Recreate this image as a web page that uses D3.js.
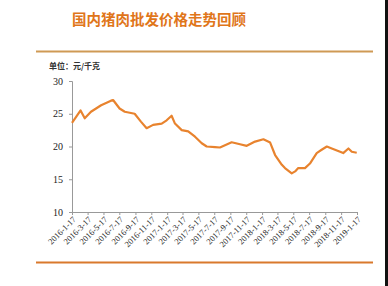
<!DOCTYPE html>
<html>
<head>
<meta charset="utf-8">
<script src="https://cdn.jsdelivr.net/npm/d3@7"></script>
<style>
  body { margin: 0; background: #fff; }
  svg { display: block; }
</style>
</head>
<body>
<div id="chart"></div>
<script>
// price of pork, wholesale, yuan/kg
var dates = [
  "2016-01-17", "2016-02-19", "2016-03-06", "2016-03-30", "2016-05-08", "2016-06-15",
  "2016-06-23", "2016-07-18", "2016-08-07", "2016-09-14", "2016-10-08", "2016-10-30",
  "2016-11-24", "2016-12-27", "2017-01-15", "2017-02-03", "2017-02-16", "2017-03-14",
  "2017-04-08", "2017-05-04", "2017-05-30", "2017-06-18", "2017-07-20", "2017-08-08",
  "2017-09-22", "2017-10-24", "2017-11-19", "2017-12-21", "2018-01-22", "2018-02-17",
  "2018-03-08", "2018-04-03", "2018-04-15", "2018-05-11", "2018-05-24", "2018-06-05",
  "2018-07-01", "2018-07-20", "2018-08-15", "2018-09-03", "2018-09-23", "2018-10-12",
  "2018-11-13", "2018-11-25", "2018-12-15", "2018-12-28", "2019-01-16"
];
var prices = [
  23.6, 25.5, 24.3, 25.3, 26.3, 27.0,
  27.1, 25.8, 25.3, 25.0, 23.8, 22.8,
  23.3, 23.5, 24.0, 24.7, 23.5, 22.5,
  22.3, 21.5, 20.5, 20.0, 19.9, 19.85,
  20.65, 20.35, 20.1, 20.75, 21.1, 20.6,
  18.7, 17.2, 16.7, 15.9, 16.2, 16.7,
  16.7, 17.4, 19.0, 19.5, 20.0, 19.7,
  19.2, 19.0, 19.7, 19.2, 19.05
];
var tickLabels = [
  "2016-1-17", "2016-3-17", "2016-5-17", "2016-7-17", "2016-9-17", "2016-11-17",
  "2017-1-17", "2017-3-17", "2017-5-17", "2017-7-17", "2017-9-17", "2017-11-17",
  "2018-1-17", "2018-3-17", "2018-5-17", "2018-7-17", "2018-9-17", "2018-11-17",
  "2019-1-17"
];
var yTicks = [10, 15, 20, 25, 30];

var title = "国内猪肉批发价格走势回顾";
var unit = "单位：元/千克";

var width = 388;
var height = 286;
var orange = "#e8832e";

var parse = d3.timeParse("%Y-%m-%d");
var parseTick = d3.timeParse("%Y-%-m-%-d");

var data = dates.map(function(d, i) { return {date: parse(d), value: prices[i]}; });

var svg = d3.select("#chart").append("svg")
  .attr("width", width)
  .attr("height", height);

// title and rules
svg.append("text")
  .attr("x", 72)
  .attr("y", 25)
  .attr("font-family", "Noto Sans CJK SC")
  .attr("font-weight", "bold")
  .attr("font-size", 14.5)
  .attr("fill", "#e0761a")
  .text(title);

svg.append("line")
  .attr("x1", 36).attr("x2", 373)
  .attr("y1", 51.5).attr("y2", 51.5)
  .attr("stroke", "#cf9a55")
  .attr("stroke-width", 2);

svg.append("line")
  .attr("x1", 36).attr("x2", 373)
  .attr("y1", 262.5).attr("y2", 262.5)
  .attr("stroke", "#d9792c")
  .attr("stroke-width", 2);

// dark strip at the right edge
svg.append("rect")
  .attr("x", 385).attr("y", 0)
  .attr("width", 3).attr("height", height)
  .attr("fill", "#111");

svg.append("text")
  .attr("x", 49)
  .attr("y", 69)
  .attr("font-family", "Noto Sans CJK SC")
  .attr("font-weight", "bold")
  .attr("font-size", 8)
  .attr("fill", "#333")
  .text(unit);

// scales
var x = d3.scaleTime()
  .domain([parseTick(tickLabels[0]), parseTick(tickLabels[tickLabels.length - 1])])
  .range([72, 357]);

var y = d3.scaleLinear()
  .domain([10, 30])
  .range([212, 81]);

// y axis
var yAxis = svg.append("g")
  .attr("transform", "translate(72,0)")
  .call(d3.axisLeft(y).tickValues(yTicks).tickSize(3).tickPadding(6));

yAxis.select(".domain").attr("stroke", "#999");
yAxis.selectAll(".tick line").attr("stroke", "#999");
yAxis.selectAll(".tick text")
  .attr("font-family", "Liberation Serif")
  .attr("font-size", 10)
  .attr("fill", "#222");

// x axis
var xAxis = svg.append("g")
  .attr("transform", "translate(0,212)")
  .call(d3.axisBottom(x)
    .tickValues(tickLabels.map(parseTick))
    .tickSize(3)
    .tickFormat(function(d, i) { return tickLabels[i]; }));

xAxis.select(".domain").attr("stroke", "#999");
xAxis.selectAll(".tick line").attr("stroke", "#999");
xAxis.selectAll(".tick text")
  .attr("font-family", "Liberation Serif")
  .attr("font-size", 8.5)
  .attr("fill", "#222")
  .attr("text-anchor", "end")
  .attr("dy", null)
  .attr("y", 0)
  .attr("transform", "translate(4,8) rotate(-45)");

// price line
var line = d3.line()
  .x(function(d) { return x(d.date); })
  .y(function(d) { return y(d.value); });

svg.append("path")
  .datum(data)
  .attr("fill", "none")
  .attr("stroke", orange)
  .attr("stroke-width", 2.2)
  .attr("stroke-linejoin", "round")
  .attr("d", line);
</script>
</body>
</html>
